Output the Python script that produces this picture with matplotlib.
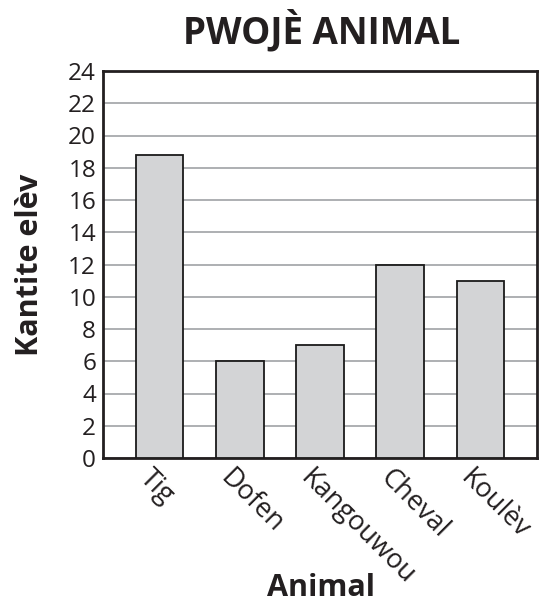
import matplotlib.pyplot as plt

animals = ['Tig', 'Dofen', 'Kangouwou', 'Cheval', 'Koulèv']
counts = [18.8, 6, 7, 12, 11]
yticks = list(range(0, 25, 2))

plt.rcParams['font.family'] = ['Open Sans', 'DejaVu Sans']

fig = plt.figure(figsize=(5.42, 6.10), dpi=100)
ax = fig.add_axes([103 / 542, 1 - 458 / 610, 434 / 542, 387 / 610])

x = list(range(len(animals)))
ax.bar(x, counts, width=0.59, color='#d3d4d6', edgecolor='#1a1a1a', linewidth=1.3, zorder=3)

ax.set_xlim(-0.71, 4.71)
ax.set_ylim(0, 24)
ax.set_yticks(yticks)
ax.set_yticklabels([str(t) for t in yticks], fontsize=17.5, color='#231f20')
ax.yaxis.grid(True, color='#a7a9ac', linewidth=1.3, zorder=0)
ax.tick_params(axis='y', length=0, pad=5)
ax.tick_params(axis='x', length=0)

# tick labels drawn by hand so they can hang off the bar centre
ax.set_xticks(x)
ax.set_xticklabels([])
for xi, name in zip(x, animals):
    ax.text(xi - 0.2, -1.0, name, rotation=-45, rotation_mode='anchor',
            ha='left', va='center', fontsize=19.5, color='#231f20')

for s in ax.spines.values():
    s.set_linewidth(2)
    s.set_color('#231f20')

fig.text(0.593, 1 - 31 / 610, 'PWOJÈ ANIMAL', ha='center', va='center',
         fontsize=26.5, fontweight='bold', color='#231f20')
fig.text(0.593, 1 - 588 / 610, 'Animal', ha='center', va='center',
         fontsize=22, fontweight='bold', color='#231f20')
fig.text(30 / 542, 1 - 265 / 610, 'Kantite elèv', ha='center', va='center',
         rotation=90, fontsize=22, fontweight='bold', color='#231f20')

fig.savefig('out.png', dpi=100)
